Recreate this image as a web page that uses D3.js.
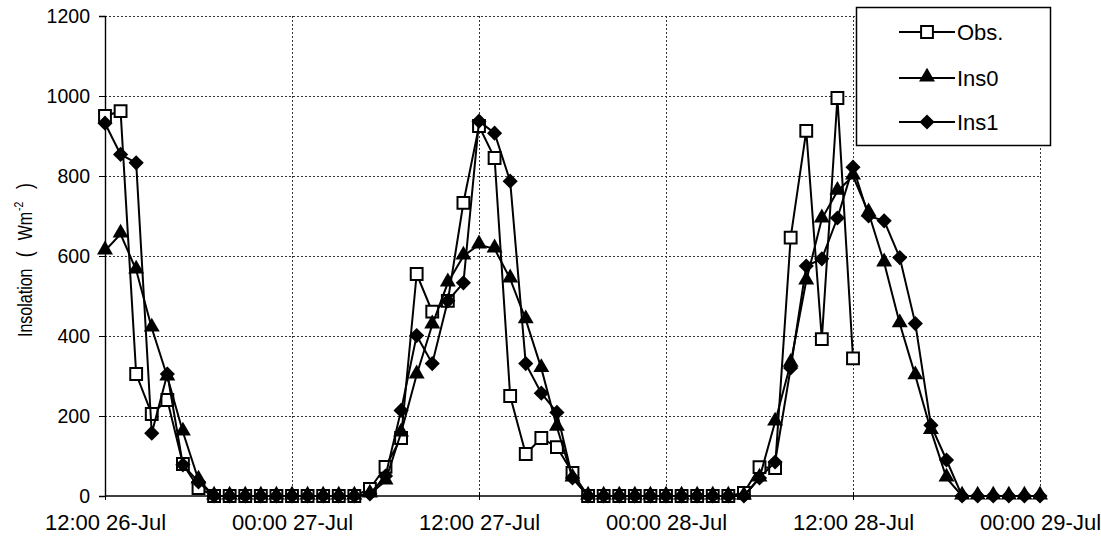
<!DOCTYPE html>
<html>
<head>
<meta charset="utf-8">
<script src="https://cdn.jsdelivr.net/npm/d3@7"></script>
<style>
  html, body { margin: 0; padding: 0; background: #fff; }
  svg { display: block; font-family: "Liberation Sans", Arial, sans-serif; }
</style>
</head>
<body>
<svg id="chart" width="1101" height="542"></svg>
<script>
// ---- data (hourly, starting 12:00 26-Jul) ----
const startTime = "2000-07-26T12:00:00";
const endTime = "2000-07-29T00:00:00";
const seriesNames = ["Obs.", "Ins0", "Ins1"];
const obsValues = [
  950, 962, 305, 205, 240, 80, 20,
  0, 0, 0, 0, 0, 0, 0, 0, 0, 0,
  18, 73, 145, 555, 461, 488, 733, 925, 845, 250, 105, 145, 122, 58,
  0, 0, 0, 0, 0, 0, 0, 0, 0, 0, 8,
  72, 70, 646, 913, 392, 995, 344
];
const ins0Values = [
  613, 655, 565, 420, 298, 160, 40,
  0, 0, 0, 0, 0, 0, 0, 0, 0, 0,
  5, 38, 158, 303, 428, 533, 600, 628, 618, 543, 441, 319, 172, 45,
  0, 0, 0, 0, 0, 0, 0, 0, 0, 0, 0,
  45, 185, 332, 538, 693, 762, 800, 708, 583, 431, 301, 164, 45,
  0, 0, 0, 0, 0, 0
];
const ins1Values = [
  932, 854, 833, 157, 305, 78, 35,
  0, 0, 0, 0, 0, 0, 0, 0, 0, 0,
  5, 50, 214, 401, 331, 488, 533, 937, 907, 787, 331, 257, 209, 45,
  0, 0, 0, 0, 0, 0, 0, 0, 0, 0, 0,
  45, 85, 320, 575, 593, 695, 822, 700, 688, 596, 431, 177, 90,
  0, 0, 0, 0, 0, 0
];
const yTicks = [0, 200, 400, 600, 800, 1000, 1200];
const xTickLabels = ["12:00 26-Jul", "00:00 27-Jul", "12:00 27-Jul", "00:00 28-Jul", "12:00 28-Jul", "00:00 29-Jul"];

// ---- layout ----
const svg = d3.select("#chart");
const pLeft = 105, pRight = 1040, pTop = 16, pBottom = 496;
const t0 = new Date(startTime), t1 = new Date(endTime);
const x = d3.scaleTime().domain([t0, t1]).range([pLeft, pRight]);
const y = d3.scaleLinear().domain([0, 1200]).range([pBottom, pTop]);
const toPts = vals => vals.map((v, i) => ({ t: d3.timeHour.offset(t0, i), v }));

svg.append("rect").attr("width", 1101).attr("height", 542).attr("fill", "#fff");

// grid
const xTickDates = d3.timeHour.every(12).range(t0, d3.timeHour.offset(t1, 1));
const grid = svg.append("g").attr("stroke", "#333").attr("stroke-width", 1).attr("stroke-dasharray", "2,2");
yTicks.filter(d => d > 0).forEach(d => {
  grid.append("line").attr("x1", pLeft).attr("x2", pRight).attr("y1", y(d) + 0.5).attr("y2", y(d) + 0.5);
});
xTickDates.filter((d, i) => i > 0).forEach(d => {
  grid.append("line").attr("x1", Math.round(x(d)) + 0.5).attr("x2", Math.round(x(d)) + 0.5).attr("y1", pTop).attr("y2", pBottom);
});

// axes
const yAxis = d3.axisLeft(y).tickValues(yTicks).tickSize(6).tickPadding(9).tickFormat(d3.format("d"));
const gy = svg.append("g").attr("transform", `translate(${pLeft},0)`).call(yAxis);
gy.select(".domain").attr("stroke", "#000").attr("stroke-width", 1.4);
gy.selectAll(".tick line").attr("stroke", "#000");
gy.selectAll("text").attr("font-size", 19.5).attr("fill", "#000").attr("font-family", "Liberation Sans, Arial, sans-serif");

const xAxis = d3.axisBottom(x).tickValues(xTickDates).tickSize(5).tickPadding(13)
  .tickFormat((d, i) => xTickLabels[i]);
const gx = svg.append("g").attr("transform", `translate(0,${pBottom})`).call(xAxis);
gx.select(".domain").attr("stroke", "#000").attr("stroke-width", 1.4).attr("d", `M${pLeft},0H${pRight}`);
gx.selectAll(".tick line").attr("stroke", "#000").attr("y1", -4).attr("y2", 4);
gx.selectAll("text").attr("font-size", 22).attr("fill", "#000").attr("font-family", "Liberation Sans, Arial, sans-serif");

// y title
const yt = svg.append("text")
  .attr("transform", "translate(32,337) rotate(-90) scale(0.8,1)")
  .attr("text-anchor", "start")
  .attr("font-size", 20).attr("fill", "#000");
yt.append("tspan").text("Insolation");
yt.append("tspan").attr("dx", 14).attr("font-size", 22).text("(");
yt.append("tspan").attr("dx", 14).text("Wm");
yt.append("tspan").attr("font-size", 13).attr("dx", 1).attr("dy", -9).text("-2");
yt.append("tspan").attr("dx", 16).attr("dy", 9).attr("font-size", 22).text(")");

// series
const line = d3.line().x(d => x(d.t)).y(d => y(d.v));
const symSquare = d3.symbol().type(d3.symbolSquare).size(140)();
const symTri = d3.symbol().type(d3.symbolTriangle).size(110)();
const symDiamond = d3.symbol().type(d3.symbolSquare).size(115)();
const seriesDefs = [
  { name: seriesNames[0], vals: obsValues, sym: symSquare, fill: "#fff", sw: 2, dy: 0, rot: 0 },
  { name: seriesNames[1], vals: ins0Values, sym: symTri, fill: "#000", sw: 0, dy: -1, rot: 0 },
  { name: seriesNames[2], vals: ins1Values, sym: symDiamond, fill: "#000", sw: 0, dy: 0, rot: 45 }
];
seriesDefs.forEach(s => {
  const pts = toPts(s.vals);
  const g = svg.append("g");
  g.append("path").datum(pts).attr("d", line).attr("fill", "none").attr("stroke", "#000").attr("stroke-width", 2);
  g.selectAll("path.m").data(pts).join("path").attr("class", "m")
    .attr("d", s.sym)
    .attr("transform", d => `translate(${x(d.t)},${y(d.v) + s.dy}) rotate(${s.rot})`)
    .attr("fill", s.fill).attr("stroke", "#000").attr("stroke-width", s.sw);
});

// legend
const lg = svg.append("g");
lg.append("rect").attr("x", 856.5).attr("y", 7.5).attr("width", 194).attr("height", 138)
  .attr("fill", "#fff").attr("stroke", "#000").attr("stroke-width", 1.5);
seriesDefs.forEach((s, i) => {
  const ly = [32, 78, 122][i];
  lg.append("line").attr("x1", 899).attr("x2", 955).attr("y1", ly).attr("y2", ly).attr("stroke", "#000").attr("stroke-width", 2);
  lg.append("path").attr("d", s.sym).attr("transform", `translate(927,${ly + s.dy}) rotate(${s.rot})`)
    .attr("fill", s.fill).attr("stroke", "#000").attr("stroke-width", s.sw);
  lg.append("text").attr("x", 957).attr("y", ly + 8).attr("font-size", 22).attr("fill", "#000").text(s.name);
});
</script>
</body>
</html>
